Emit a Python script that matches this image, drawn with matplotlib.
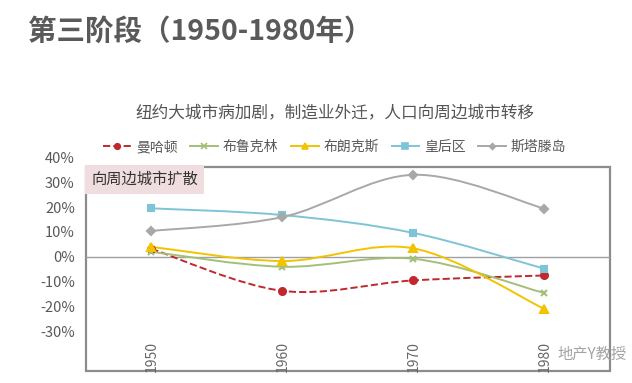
import numpy as np
import matplotlib
matplotlib.use("Agg")
import matplotlib.pyplot as plt
from matplotlib.path import Path
from matplotlib.patches import PathPatch, Rectangle
from matplotlib.lines import Line2D

plt.rcParams['font.family'] = ['Noto Sans CJK SC', 'DejaVu Sans']

# 数据
years = ["1950", "1960", "1970", "1980"]
manhattan = [3.2, -13.7, -9.5, -7.5]
brooklyn = [2.0, -4.0, -0.8, -14.6]
bronx = [4.0, -1.7, 3.4, -21.0]
queens = [19.5, 16.8, 9.6, -4.8]
staten = [10.4, 16.0, 33.0, 19.4]
yticks = [-30, -20, -10, 0, 10, 20, 30, 40]

series = [
    ("曼哈顿", manhattan, "#c0282d", "o", "--", 5),
    ("布鲁克林", brooklyn, "#a3bf78", "x", "-", 5),
    ("布朗克斯", bronx, "#f2c300", "^", "-", 5.5),
    ("皇后区", queens, "#7fc4d6", "s", "-", 5),
    ("斯塔滕岛", staten, "#a8a8a8", "D", "-", 4),
]


# Excel風の平滑線
def smooth_path(xs, ys):
    pts = np.column_stack([xs, ys]).astype(float)
    verts = [pts[0]]
    codes = [Path.MOVETO]
    n = len(pts)
    for i in range(n - 1):
        p0 = pts[i - 1] if i > 0 else pts[i]
        p1 = pts[i]
        p2 = pts[i + 1]
        p3 = pts[i + 2] if i + 2 < n else pts[i + 1]
        c1 = p1 + (p2 - p0) / 6.0
        c2 = p2 - (p3 - p1) / 6.0
        verts += [c1, c2, p2]
        codes += [Path.CURVE4] * 3
    return Path(verts, codes)


fig = plt.figure(figsize=(6.32, 3.83), dpi=100)
ax = fig.add_axes([0.136, 0.031, 0.829, 0.571])
ax.set_xlim(-0.5, 3.5)
ax.set_ylim(-46, 42)
for s in ax.spines.values():
    s.set_visible(False)

ax.add_patch(Rectangle((-0.5, -46), 4, 82, fill=False, edgecolor="#8c8c8c",
                       lw=1.6, clip_on=False, zorder=1))
ax.plot([-0.5, 3.5], [0, 0], color="#a0a0a0", lw=1, zorder=1)

x = np.arange(len(years))
handles = []
for name, vals, color, mk, ls, ms in series:
    ax.add_patch(PathPatch(smooth_path(x, vals), fill=False, edgecolor=color,
                           lw=1.4, linestyle=ls, zorder=3))
    ax.plot(x, vals, linestyle="none", marker=mk, color=color, ms=ms,
            mew=1.5, zorder=4)
    handles.append(Line2D([], [], color=color, linestyle=ls, marker=mk,
                          ms=ms - 1, lw=1.4, mew=1.2, label=name))

ax.set_xticks([])
ax.set_yticks(yticks)
ax.set_yticklabels([f"{v}%" for v in yticks], color="#595959", fontsize=10.5)
ax.tick_params(axis="y", length=0, pad=8)

for i, yr in enumerate(years):
    ax.text(i, -34, yr, rotation=90, ha="center", va="top",
            fontsize=10, color="#666666")

# 注記ボックス
ax.text(-0.46, 31.2, "向周边城市扩散", fontsize=11, color="#333333",
        va="center", ha="left",
        bbox=dict(boxstyle="square,pad=0.4", fc="#f0dde0", ec="none"))

fig.text(0.044, 0.916, "第三阶段（1950-1980年）", fontsize=20.5,
         color="#5a5a5a", fontweight="bold", va="center", ha="left")
fig.text(0.53, 0.705, "纽约大城市病加剧，制造业外迁，人口向周边城市转移",
         fontsize=12, color="#555555", ha="center", va="center")

fig.legend(handles=handles, loc="center", bbox_to_anchor=(0.53, 0.616),
           ncol=5, frameon=False, fontsize=10, handlelength=2.0,
           handletextpad=0.35, columnspacing=0.9, labelcolor="#595959")

fig.text(0.882, 0.075, "地产Y教授", fontsize=11, color="#9a9a9a",
         ha="left", va="center", alpha=0.9)

fig.savefig("out.png", dpi=100, facecolor="white")
